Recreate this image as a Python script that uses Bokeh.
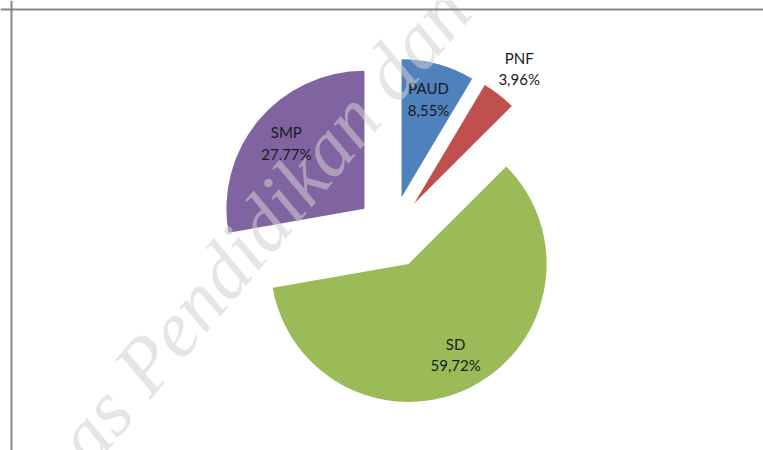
import math
from bokeh.plotting import figure
from bokeh.models import ColumnDataSource, Span, Range1d
from bokeh.core.properties import value
from bokeh.embed import file_html
from bokeh.resources import INLINE

# ---- data ----
categories = ["PAUD", "PNF", "SD", "SMP"]
percentages = [8.55, 3.96, 59.72, 27.77]
colors = ["#4F81BD", "#C0504D", "#9BBB59", "#8064A2"]
label_inside = [True, False, True, True]

# ---- geometry (pixel-like data units) ----
cx, cy = 391.5, 218.5       # pie centre
radius = 138
explode = 36
label_r_inside = 138
label_r_outside = 207

total = sum(percentages)
xs, ys, starts, ends, lx, ly, texts = [], [], [], [], [], [], []
acc = 0.0
for cat, v, ins in zip(categories, percentages, label_inside):
    t1 = acc / total * 2 * math.pi          # clockwise from 12 o'clock
    t2 = (acc + v) / total * 2 * math.pi
    mid = (t1 + t2) / 2
    acc += v
    dx, dy = math.sin(mid), math.cos(mid)
    xs.append(cx + explode * dx)
    ys.append(cy + explode * dy)
    starts.append(math.pi / 2 - t2)
    ends.append(math.pi / 2 - t1)
    lr = label_r_inside if ins else label_r_outside
    lx.append(cx + lr * dx)
    ly.append(cy + lr * dy)
    texts.append(cat + "\n" + f"{v:.2f}".replace(".", ",") + "%")

src = ColumnDataSource(dict(x=xs, y=ys, start=starts, end=ends, color=colors,
                            lx=lx, ly=ly, text=texts))

p = figure(width=763, height=450, x_range=Range1d(0, 763), y_range=Range1d(0, 450),
           output_backend="svg", toolbar_location=None, min_border=0)
p.axis.visible = False
p.grid.visible = False
p.outline_line_color = None
p.background_fill_color = "white"

p.wedge(x="x", y="y", radius=radius, start_angle="start", end_angle="end",
        fill_color="color", line_color=None, source=src)

p.text(x="lx", y="ly", text="text", source=src, text_align="center",
       text_baseline="middle", text_font=value("Lato"), text_font_size="15px",
       text_color="#1a1a1a", text_line_height=1.2)

# watermark
wm_angle = math.radians(50)
wm_x, wm_y = 129, 68
p.text(x=[wm_x], y=[wm_y], text=["Pendidikan dan Kebudayaan"], angle=wm_angle,
       text_align="left", text_baseline="alphabetic",
       text_font=value("Liberation Serif"), text_font_style="italic",
       text_font_size="80px", text_color="#d0d0d0", text_alpha=0.55)
p.text(x=[wm_x], y=[wm_y], text=["Dinas "], angle=wm_angle,
       text_align="right", text_baseline="alphabetic",
       text_font=value("Liberation Serif"), text_font_style="italic",
       text_font_size="80px", text_color="#d0d0d0", text_alpha=0.55)

# frame lines
p.add_layout(Span(location=441, dimension="width", line_color="#878787", line_width=2))
p.add_layout(Span(location=11, dimension="height", line_color="#878787", line_width=2))

open("out.html", "w").write(file_html(p, INLINE))
